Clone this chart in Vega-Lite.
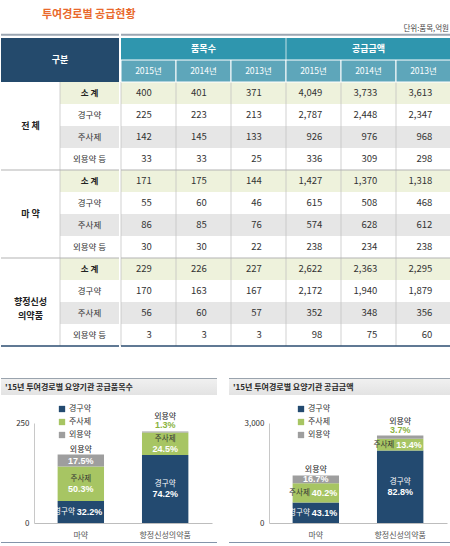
{
  "$schema": "https://vega.github.io/schema/vega-lite/v6.json",
  "padding": {"left": 0, "top": 9, "right": 0, "bottom": 0},
  "title": {
    "text": "투여경로별 공급현황",
    "anchor": "start",
    "dx": 42,
    "offset": 5,
    "fontSize": 11,
    "fontWeight": "bold",
    "color": "#e9692c"
  },
  "datasets": {
    "supply": [
      {"group": "전체", "kind": "소 계", "n2015": 400, "n2014": 401, "n2013": 371, "a2015": 4049, "a2014": 3733, "a2013": 3613},
      {"group": "전체", "kind": "경구약", "n2015": 225, "n2014": 223, "n2013": 213, "a2015": 2787, "a2014": 2448, "a2013": 2347},
      {"group": "전체", "kind": "주사제", "n2015": 142, "n2014": 145, "n2013": 133, "a2015": 926, "a2014": 976, "a2013": 968},
      {"group": "전체", "kind": "외용약 등", "n2015": 33, "n2014": 33, "n2013": 25, "a2015": 336, "a2014": 309, "a2013": 298},
      {"group": "마약", "kind": "소 계", "n2015": 171, "n2014": 175, "n2013": 144, "a2015": 1427, "a2014": 1370, "a2013": 1318},
      {"group": "마약", "kind": "경구약", "n2015": 55, "n2014": 60, "n2013": 46, "a2015": 615, "a2014": 508, "a2013": 468},
      {"group": "마약", "kind": "주사제", "n2015": 86, "n2014": 85, "n2013": 76, "a2015": 574, "a2014": 628, "a2013": 612},
      {"group": "마약", "kind": "외용약 등", "n2015": 30, "n2014": 30, "n2013": 22, "a2015": 238, "a2014": 234, "a2013": 238},
      {"group": "향정신성의약품", "kind": "소 계", "n2015": 229, "n2014": 226, "n2013": 227, "a2015": 2622, "a2014": 2363, "a2013": 2295},
      {"group": "향정신성의약품", "kind": "경구약", "n2015": 170, "n2014": 163, "n2013": 167, "a2015": 2172, "a2014": 1940, "a2013": 1879},
      {"group": "향정신성의약품", "kind": "주사제", "n2015": 56, "n2014": 60, "n2013": 57, "a2015": 352, "a2014": 348, "a2013": 356},
      {"group": "향정신성의약품", "kind": "외용약 등", "n2015": 3, "n2014": 3, "n2013": 3, "a2015": 98, "a2014": 75, "a2013": 60}
    ],
    "colhead": [
      {"key": "n2015", "measure": "품목수", "year": "2015년"},
      {"key": "n2014", "measure": "품목수", "year": "2014년"},
      {"key": "n2013", "measure": "품목수", "year": "2013년"},
      {"key": "a2015", "measure": "공급금액", "year": "2015년"},
      {"key": "a2014", "measure": "공급금액", "year": "2014년"},
      {"key": "a2013", "measure": "공급금액", "year": "2013년"}
    ]
  },
  "columns": 1,
  "align": "none",
  "spacing": 31,
  "resolve": {"scale": {"color": "independent"}, "legend": {"color": "independent"}},
  "concat": [
    {
      "title": {"text": "단위:품목,억원", "anchor": "end", "dx": -3, "offset": 1, "fontSize": 7.5, "fontWeight": "normal", "color": "#444"},
      "spacing": 0,
      "hconcat": [
        {
          "width": 118,
          "height": 308,
          "data": {"name": "supply"},
          "transform": [
            {"calculate": "datum.group + '|' + datum.kind", "as": "row"},
            {"calculate": "datum.group == '전체' ? '전 체' : datum.group == '마약' ? '마 약' : ['향정신성', '의약품']", "as": "glabel"}
          ],
          "layer": [
            {
              "mark": {"type": "rect"},
              "encoding": {
                "x": {"datum": "k", "type": "nominal", "scale": {"domain": ["g", "k"], "paddingInner": 0, "paddingOuter": 0}, "axis": null},
                "y": {"field": "row", "type": "nominal", "axis": null, "scale": {"paddingInner": 0, "paddingOuter": 0, "domain": ["h1", "h2", "전체|소 계", "전체|경구약", "전체|주사제", "전체|외용약 등", "마약|소 계", "마약|경구약", "마약|주사제", "마약|외용약 등", "향정신성의약품|소 계", "향정신성의약품|경구약", "향정신성의약품|주사제", "향정신성의약품|외용약 등"]}},
                "color": {"condition": [{"test": "datum.kind == '소 계'", "value": "#eef2dc"}, {"test": "datum.kind == '주사제'", "value": "#e6e6e6"}], "value": "#ffffff"}
              }
            },
            {
              "mark": {"type": "tick", "orient": "vertical", "size": 22, "thickness": 1, "color": "#bdbdbd"},
              "encoding": {
                "x": {"datum": "k", "type": "nominal", "bandPosition": 0},
                "y": {"field": "row", "type": "nominal"}
              }
            },
            {
              "transform": [{"filter": "datum.kind != '소 계'"}],
              "mark": {"type": "text", "fontSize": 8.5, "color": "#333"},
              "encoding": {
                "x": {"datum": "k", "type": "nominal"},
                "y": {"field": "row", "type": "nominal"},
                "text": {"field": "kind", "type": "nominal"}
              }
            },
            {
              "transform": [{"filter": "datum.kind == '소 계'"}],
              "mark": {"type": "text", "fontSize": 8.5, "fontWeight": "bold", "color": "#222"},
              "encoding": {
                "x": {"datum": "k", "type": "nominal"},
                "y": {"field": "row", "type": "nominal"},
                "text": {"field": "kind", "type": "nominal"}
              }
            },
            {
              "transform": [{"filter": "datum.kind == '주사제'"}],
              "mark": {"type": "text", "fontSize": 9, "fontWeight": "bold", "color": "#222", "lineHeight": 14},
              "encoding": {
                "x": {"datum": "g", "type": "nominal"},
                "y": {"field": "row", "type": "nominal", "bandPosition": 0},
                "text": {"field": "glabel", "type": "nominal"}
              }
            },
            {
              "transform": [{"filter": "datum.kind == '소 계' && datum.group != '전체'"}],
              "mark": {"type": "rule", "color": "#b3b3b3", "strokeWidth": 1},
              "encoding": {"y": {"field": "row", "type": "nominal", "bandPosition": 0}}
            },
            {
              "data": {"values": [{"label": "구분"}]},
              "mark": {"type": "rect", "color": "#244a6c"},
              "encoding": {"y": {"datum": "h1", "type": "nominal"}}
            },
            {
              "data": {"values": [{"label": "구분"}]},
              "mark": {"type": "rect", "color": "#244a6c"},
              "encoding": {"y": {"datum": "h2", "type": "nominal"}}
            },
            {
              "data": {"values": [{"label": "구분"}]},
              "mark": {"type": "text", "fontSize": 9, "fontWeight": "bold", "color": "#ffffff"},
              "encoding": {
                "x": {"datum": "k", "type": "nominal", "bandPosition": 0},
                "y": {"datum": "h2", "type": "nominal", "bandPosition": 0},
                "text": {"field": "label", "type": "nominal"}
              }
            },
            {
              "data": {"values": [{}]},
              "mark": {"type": "rule", "color": "#9ba6b2", "strokeWidth": 2},
              "encoding": {"y": {"datum": "h1", "type": "nominal", "bandPosition": -0.15}}
            },
            {
              "data": {"values": [{}]},
              "mark": {"type": "rule", "color": "#2b4d70", "strokeWidth": 1.5},
              "encoding": {"y": {"datum": "향정신성의약품|외용약 등", "type": "nominal", "bandPosition": 1}}
            }
          ]
        },
        {
          "width": 330,
          "height": 308,
          "data": {"name": "supply"},
          "transform": [
            {"calculate": "datum.group + '|' + datum.kind", "as": "row"},
            {"fold": ["n2015", "n2014", "n2013", "a2015", "a2014", "a2013"], "as": ["key", "value"]}
          ],
          "layer": [
            {
              "mark": {"type": "rect"},
              "encoding": {
                "x": {"field": "key", "type": "nominal", "scale": {"domain": ["n2015", "n2014", "n2013", "a2015", "a2014", "a2013"], "paddingInner": 0, "paddingOuter": 0}, "axis": null},
                "y": {"field": "row", "type": "nominal", "axis": null, "scale": {"paddingInner": 0, "paddingOuter": 0, "domain": ["h1", "h2", "전체|소 계", "전체|경구약", "전체|주사제", "전체|외용약 등", "마약|소 계", "마약|경구약", "마약|주사제", "마약|외용약 등", "향정신성의약품|소 계", "향정신성의약품|경구약", "향정신성의약품|주사제", "향정신성의약품|외용약 등"]}},
                "color": {"condition": [{"test": "datum.kind == '소 계'", "value": "#eef2dc"}, {"test": "datum.kind == '주사제'", "value": "#e6e6e6"}], "value": "#ffffff"}
              }
            },
            {
              "mark": {"type": "tick", "orient": "vertical", "size": 22, "thickness": 1, "color": "#bdbdbd"},
              "encoding": {
                "x": {"field": "key", "type": "nominal", "bandPosition": 0},
                "y": {"field": "row", "type": "nominal"}
              }
            },
            {
              "transform": [{"filter": "indexof(['n2015', 'n2014', 'n2013'], datum.key) >= 0"}],
              "mark": {"type": "text", "align": "right", "fontSize": 9.5, "color": "#333"},
              "encoding": {
                "x": {"field": "key", "type": "nominal", "bandPosition": 0.56},
                "y": {"field": "row", "type": "nominal"},
                "text": {"field": "value", "type": "quantitative", "format": ",d"}
              }
            },
            {
              "transform": [{"filter": "indexof(['a2015', 'a2014', 'a2013'], datum.key) >= 0"}],
              "mark": {"type": "text", "align": "right", "fontSize": 9.5, "color": "#333"},
              "encoding": {
                "x": {"field": "key", "type": "nominal", "bandPosition": 0.66},
                "y": {"field": "row", "type": "nominal"},
                "text": {"field": "value", "type": "quantitative", "format": ",d"}
              }
            },
            {
              "transform": [{"filter": "datum.kind == '소 계' && datum.group != '전체' && datum.key == 'n2015'"}],
              "mark": {"type": "rule", "color": "#b3b3b3", "strokeWidth": 1},
              "encoding": {"y": {"field": "row", "type": "nominal", "bandPosition": 0}}
            },
            {
              "data": {"name": "colhead"},
              "mark": {"type": "rect", "color": "#2f96ae"},
              "encoding": {
                "x": {"field": "key", "type": "nominal"},
                "y": {"datum": "h1", "type": "nominal"}
              }
            },
            {
              "data": {"name": "colhead"},
              "mark": {"type": "rect", "color": "#5ea6ba", "stroke": "#ffffff", "strokeWidth": 1},
              "encoding": {
                "x": {"field": "key", "type": "nominal"},
                "y": {"datum": "h2", "type": "nominal"}
              }
            },
            {
              "data": {"name": "colhead"},
              "transform": [{"filter": "datum.key == 'a2015'"}],
              "mark": {"type": "tick", "orient": "vertical", "size": 22, "thickness": 1, "color": "#ffffff"},
              "encoding": {
                "x": {"field": "key", "type": "nominal", "bandPosition": 0},
                "y": {"datum": "h1", "type": "nominal"}
              }
            },
            {
              "data": {"name": "colhead"},
              "transform": [{"filter": "datum.year == '2014년'"}],
              "mark": {"type": "text", "fontSize": 9, "fontWeight": "bold", "color": "#ffffff"},
              "encoding": {
                "x": {"field": "key", "type": "nominal"},
                "y": {"datum": "h1", "type": "nominal"},
                "text": {"field": "measure", "type": "nominal"}
              }
            },
            {
              "data": {"name": "colhead"},
              "mark": {"type": "text", "fontSize": 8.5, "color": "#ffffff"},
              "encoding": {
                "x": {"field": "key", "type": "nominal"},
                "y": {"datum": "h2", "type": "nominal"},
                "text": {"field": "year", "type": "nominal"}
              }
            },
            {
              "data": {"values": [{}]},
              "mark": {"type": "rule", "color": "#9ba6b2", "strokeWidth": 2},
              "encoding": {"y": {"datum": "h1", "type": "nominal", "bandPosition": -0.15}}
            },
            {
              "data": {"values": [{}]},
              "mark": {"type": "rule", "color": "#2b4d70", "strokeWidth": 1.5},
              "encoding": {"y": {"datum": "향정신성의약품|외용약 등", "type": "nominal", "bandPosition": 1}}
            }
          ]
        }
      ]
    },
    {
      "spacing": 12,
      "resolve": {"scale": {"color": "independent"}, "legend": {"color": "independent"}},
      "hconcat": [
        {
          "columns": 1,
          "align": "none",
          "spacing": 3,
          "resolve": {"scale": {"color": "independent"}, "legend": {"color": "independent"}},
          "concat": [
            {
              "width": 216,
              "height": 17,
              "data": {"values": [{}]},
              "mark": {"type": "rect", "color": {"gradient": "linear", "x1": 0, "y1": 0, "x2": 0, "y2": 1, "stops": [{"offset": 0, "color": "#9aa3ad"}, {"offset": 0.07, "color": "#9aa3ad"}, {"offset": 0.08, "color": "#f0f0f0"}, {"offset": 1, "color": "#e3e3e3"}]}},
              "encoding": {},
              "title": {"text": "'15년 투여경로별 요양기관 공급품목수", "anchor": "start", "frame": "group", "dx": 4, "offset": -14, "fontSize": 8, "fontWeight": "bold", "color": "#2a2a2a"}
            },
            {
              "width": 216,
              "height": 100,
              "data": {"name": "supply"},
              "transform": [
                {"filter": "datum.group != '전체' && datum.kind != '소 계'"},
                {"calculate": "replace(datum.kind, ' 등', '')", "as": "name"},
                {"calculate": "indexof(['경구약', '주사제', '외용약'], datum.name)", "as": "ord"},
                {"stack": "n2015", "groupby": ["group"], "sort": [{"field": "ord", "order": "ascending"}], "as": ["v0", "v1"]},
                {"joinaggregate": [{"op": "sum", "field": "n2015", "as": "total"}], "groupby": ["group"]},
                {"calculate": "datum.n2015 / datum.total", "as": "pct"},
                {"calculate": "(datum.v0 + datum.v1) / 2", "as": "mid"}
              ],
              "layer": [
                {
                  "mark": {"type": "bar"},
                  "encoding": {
                    "x": {"field": "group", "type": "nominal", "scale": {"domain": ["마약", "향정신성의약품"], "range": [33, 211], "paddingInner": 0.45, "paddingOuter": 0.28}, "axis": {"title": null, "labelAngle": 0, "ticks": false, "domainColor": "#bdbdbd", "labelFontSize": 8, "labelColor": "#555", "labelPadding": 8}},
                    "y": {"field": "v0", "type": "quantitative", "title": null, "scale": {"domain": [0, 250], "nice": false}, "axis": {"values": [0, 250], "offset": -33, "grid": false, "ticks": false, "domainColor": "#c8c8c8", "labelFontSize": 8, "labelColor": "#333", "labelPadding": 5}},
                    "y2": {"field": "v1"},
                    "color": {"field": "name", "type": "nominal", "scale": {"domain": ["경구약", "주사제", "외용약"], "range": ["#234a70", "#a7c563", "#9e9e9e"]}, "legend": {"orient": "none", "legendX": 50, "legendY": -25, "padding": 7, "title": null, "symbolType": "square", "symbolSize": 40, "symbolStrokeWidth": 0, "labelFontSize": 8, "labelColor": "#333", "rowPadding": 5, "labelOffset": 3}}
                  }
                },
                {
                  "transform": [{"filter": "datum.name == '주사제' || (datum.name == '경구약' && datum.group == '향정신성의약품')"}],
                  "mark": {"type": "text", "fontSize": 7.5, "dy": -5},
                  "encoding": {
                    "x": {"field": "group", "type": "nominal"},
                    "y": {"field": "mid", "type": "quantitative", "title": null},
                    "text": {"field": "name", "type": "nominal"},
                    "color": {"condition": {"test": "datum.name == '경구약'", "value": "#ffffff"}, "value": "#333333"}
                  }
                },
                {
                  "transform": [{"filter": "datum.name == '주사제' || (datum.name == '경구약' && datum.group == '향정신성의약품')"}],
                  "mark": {"type": "text", "fontSize": 9, "fontWeight": "bold", "font": "Liberation Sans", "color": "#ffffff", "dy": 5},
                  "encoding": {
                    "x": {"field": "group", "type": "nominal"},
                    "y": {"field": "mid", "type": "quantitative", "title": null},
                    "text": {"field": "pct", "type": "quantitative", "format": ".1%"}
                  }
                },
                {
                  "transform": [{"filter": "datum.name == '경구약' && datum.group == '마약'"}],
                  "mark": {"type": "text", "fontSize": 7.5, "align": "right", "dx": -6, "color": "#ffffff"},
                  "encoding": {
                    "x": {"field": "group", "type": "nominal"},
                    "y": {"field": "mid", "type": "quantitative", "title": null},
                    "text": {"field": "name", "type": "nominal"}
                  }
                },
                {
                  "transform": [{"filter": "datum.name == '경구약' && datum.group == '마약'"}],
                  "mark": {"type": "text", "fontSize": 9, "fontWeight": "bold", "font": "Liberation Sans", "align": "left", "dx": -4, "color": "#ffffff"},
                  "encoding": {
                    "x": {"field": "group", "type": "nominal"},
                    "y": {"field": "mid", "type": "quantitative", "title": null},
                    "text": {"field": "pct", "type": "quantitative", "format": ".1%"}
                  }
                },
                {
                  "transform": [{"filter": "datum.name == '외용약' && datum.group == '마약'"}],
                  "mark": {"type": "text", "fontSize": 9, "fontWeight": "bold", "font": "Liberation Sans", "color": "#ffffff"},
                  "encoding": {
                    "x": {"field": "group", "type": "nominal"},
                    "y": {"field": "mid", "type": "quantitative", "title": null},
                    "text": {"field": "pct", "type": "quantitative", "format": ".1%"}
                  }
                },
                {
                  "transform": [{"filter": "datum.name == '외용약' && datum.group == '마약'"}],
                  "mark": {"type": "text", "fontSize": 8, "baseline": "bottom", "dy": -1, "color": "#222"},
                  "encoding": {
                    "x": {"field": "group", "type": "nominal"},
                    "y": {"field": "v1", "type": "quantitative", "title": null},
                    "text": {"field": "name", "type": "nominal"}
                  }
                },
                {
                  "transform": [{"filter": "datum.name == '외용약' && datum.group == '향정신성의약품'"}],
                  "mark": {"type": "text", "fontSize": 8, "baseline": "bottom", "dy": -10, "color": "#222"},
                  "encoding": {
                    "x": {"field": "group", "type": "nominal"},
                    "y": {"field": "v1", "type": "quantitative", "title": null},
                    "text": {"field": "name", "type": "nominal"}
                  }
                },
                {
                  "transform": [{"filter": "datum.name == '외용약' && datum.group == '향정신성의약품'"}],
                  "mark": {"type": "text", "fontSize": 9, "fontWeight": "bold", "font": "Liberation Sans", "baseline": "bottom", "dy": -1, "color": "#8ab33d"},
                  "encoding": {
                    "x": {"field": "group", "type": "nominal"},
                    "y": {"field": "v1", "type": "quantitative", "title": null},
                    "text": {"field": "pct", "type": "quantitative", "format": ".1%"}
                  }
                }
              ]
            },
            {
              "width": 216,
              "height": 1,
              "data": {"values": [{}]},
              "mark": {"type": "rect", "color": "#8494aa"},
              "encoding": {}
            }
          ]
        },
        {
          "columns": 1,
          "align": "none",
          "spacing": 3,
          "resolve": {"scale": {"color": "independent"}, "legend": {"color": "independent"}},
          "concat": [
            {
              "width": 222,
              "height": 17,
              "data": {"values": [{}]},
              "mark": {"type": "rect", "color": {"gradient": "linear", "x1": 0, "y1": 0, "x2": 0, "y2": 1, "stops": [{"offset": 0, "color": "#9aa3ad"}, {"offset": 0.07, "color": "#9aa3ad"}, {"offset": 0.08, "color": "#f0f0f0"}, {"offset": 1, "color": "#e3e3e3"}]}},
              "encoding": {},
              "title": {"text": "'15년 투여경로별 요양기관 공급금액", "anchor": "start", "frame": "group", "dx": 4, "offset": -14, "fontSize": 8, "fontWeight": "bold", "color": "#2a2a2a"}
            },
            {
              "width": 222,
              "height": 100,
              "data": {"name": "supply"},
              "transform": [
                {"filter": "datum.group != '전체' && datum.kind != '소 계'"},
                {"calculate": "replace(datum.kind, ' 등', '')", "as": "name"},
                {"calculate": "indexof(['경구약', '주사제', '외용약'], datum.name)", "as": "ord"},
                {"stack": "a2015", "groupby": ["group"], "sort": [{"field": "ord", "order": "ascending"}], "as": ["v0", "v1"]},
                {"joinaggregate": [{"op": "sum", "field": "a2015", "as": "total"}], "groupby": ["group"]},
                {"calculate": "datum.a2015 / datum.total", "as": "pct"},
                {"calculate": "(datum.v0 + datum.v1) / 2", "as": "mid"}
              ],
              "layer": [
                {
                  "mark": {"type": "bar"},
                  "encoding": {
                    "x": {"field": "group", "type": "nominal", "scale": {"domain": ["마약", "향정신성의약품"], "range": [40, 218], "paddingInner": 0.45, "paddingOuter": 0.28}, "axis": {"title": null, "labelAngle": 0, "ticks": false, "domainColor": "#bdbdbd", "labelFontSize": 8, "labelColor": "#555", "labelPadding": 8}},
                    "y": {"field": "v0", "type": "quantitative", "title": null, "scale": {"domain": [0, 3000], "nice": false}, "axis": {"values": [0, 3000], "format": ",d", "offset": -40, "grid": false, "ticks": false, "domainColor": "#c8c8c8", "labelFontSize": 8, "labelColor": "#333", "labelPadding": 5}},
                    "y2": {"field": "v1"},
                    "color": {"field": "name", "type": "nominal", "scale": {"domain": ["경구약", "주사제", "외용약"], "range": ["#234a70", "#a7c563", "#9e9e9e"]}, "legend": {"orient": "none", "legendX": 61, "legendY": -25, "padding": 7, "title": null, "symbolType": "square", "symbolSize": 40, "symbolStrokeWidth": 0, "labelFontSize": 8, "labelColor": "#333", "rowPadding": 5, "labelOffset": 3}}
                  }
                },
                {
                  "transform": [{"filter": "datum.name == '경구약' && datum.group == '향정신성의약품'"}],
                  "mark": {"type": "text", "fontSize": 7.5, "dy": -5, "color": "#ffffff"},
                  "encoding": {
                    "x": {"field": "group", "type": "nominal"},
                    "y": {"field": "mid", "type": "quantitative", "title": null},
                    "text": {"field": "name", "type": "nominal"}
                  }
                },
                {
                  "transform": [{"filter": "datum.name == '경구약' && datum.group == '향정신성의약품'"}],
                  "mark": {"type": "text", "fontSize": 9, "fontWeight": "bold", "font": "Liberation Sans", "color": "#ffffff", "dy": 5},
                  "encoding": {
                    "x": {"field": "group", "type": "nominal"},
                    "y": {"field": "mid", "type": "quantitative", "title": null},
                    "text": {"field": "pct", "type": "quantitative", "format": ".1%"}
                  }
                },
                {
                  "transform": [{"filter": "datum.name == '주사제' || (datum.name == '경구약' && datum.group == '마약')"}],
                  "mark": {"type": "text", "fontSize": 7.5, "align": "right", "dx": -6},
                  "encoding": {
                    "x": {"field": "group", "type": "nominal"},
                    "y": {"field": "mid", "type": "quantitative", "title": null},
                    "text": {"field": "name", "type": "nominal"},
                    "color": {"condition": {"test": "datum.name == '경구약'", "value": "#ffffff"}, "value": "#333333"}
                  }
                },
                {
                  "transform": [{"filter": "datum.name == '주사제' || (datum.name == '경구약' && datum.group == '마약')"}],
                  "mark": {"type": "text", "fontSize": 9, "fontWeight": "bold", "font": "Liberation Sans", "align": "left", "dx": -4, "color": "#ffffff"},
                  "encoding": {
                    "x": {"field": "group", "type": "nominal"},
                    "y": {"field": "mid", "type": "quantitative", "title": null},
                    "text": {"field": "pct", "type": "quantitative", "format": ".1%"}
                  }
                },
                {
                  "transform": [{"filter": "datum.name == '외용약' && datum.group == '마약'"}],
                  "mark": {"type": "text", "fontSize": 9, "fontWeight": "bold", "font": "Liberation Sans", "color": "#ffffff"},
                  "encoding": {
                    "x": {"field": "group", "type": "nominal"},
                    "y": {"field": "mid", "type": "quantitative", "title": null},
                    "text": {"field": "pct", "type": "quantitative", "format": ".1%"}
                  }
                },
                {
                  "transform": [{"filter": "datum.name == '외용약' && datum.group == '마약'"}],
                  "mark": {"type": "text", "fontSize": 8, "baseline": "bottom", "dy": -1, "color": "#222"},
                  "encoding": {
                    "x": {"field": "group", "type": "nominal"},
                    "y": {"field": "v1", "type": "quantitative", "title": null},
                    "text": {"field": "name", "type": "nominal"}
                  }
                },
                {
                  "transform": [{"filter": "datum.name == '외용약' && datum.group == '향정신성의약품'"}],
                  "mark": {"type": "text", "fontSize": 8, "baseline": "bottom", "dy": -10, "color": "#222"},
                  "encoding": {
                    "x": {"field": "group", "type": "nominal"},
                    "y": {"field": "v1", "type": "quantitative", "title": null},
                    "text": {"field": "name", "type": "nominal"}
                  }
                },
                {
                  "transform": [{"filter": "datum.name == '외용약' && datum.group == '향정신성의약품'"}],
                  "mark": {"type": "text", "fontSize": 9, "fontWeight": "bold", "font": "Liberation Sans", "baseline": "bottom", "dy": -1, "color": "#8ab33d"},
                  "encoding": {
                    "x": {"field": "group", "type": "nominal"},
                    "y": {"field": "v1", "type": "quantitative", "title": null},
                    "text": {"field": "pct", "type": "quantitative", "format": ".1%"}
                  }
                }
              ]
            },
            {
              "width": 222,
              "height": 1,
              "data": {"values": [{}]},
              "mark": {"type": "rect", "color": "#8494aa"},
              "encoding": {}
            }
          ]
        }
      ]
    }
  ],
  "config": {
    "view": {"stroke": null},
    "font": "Noto Sans CJK KR",
    "axis": {"labelFont": "Noto Sans CJK KR"},
    "legend": {"labelFont": "Noto Sans CJK KR"},
    "title": {"font": "Noto Sans CJK KR"}
  }
}
